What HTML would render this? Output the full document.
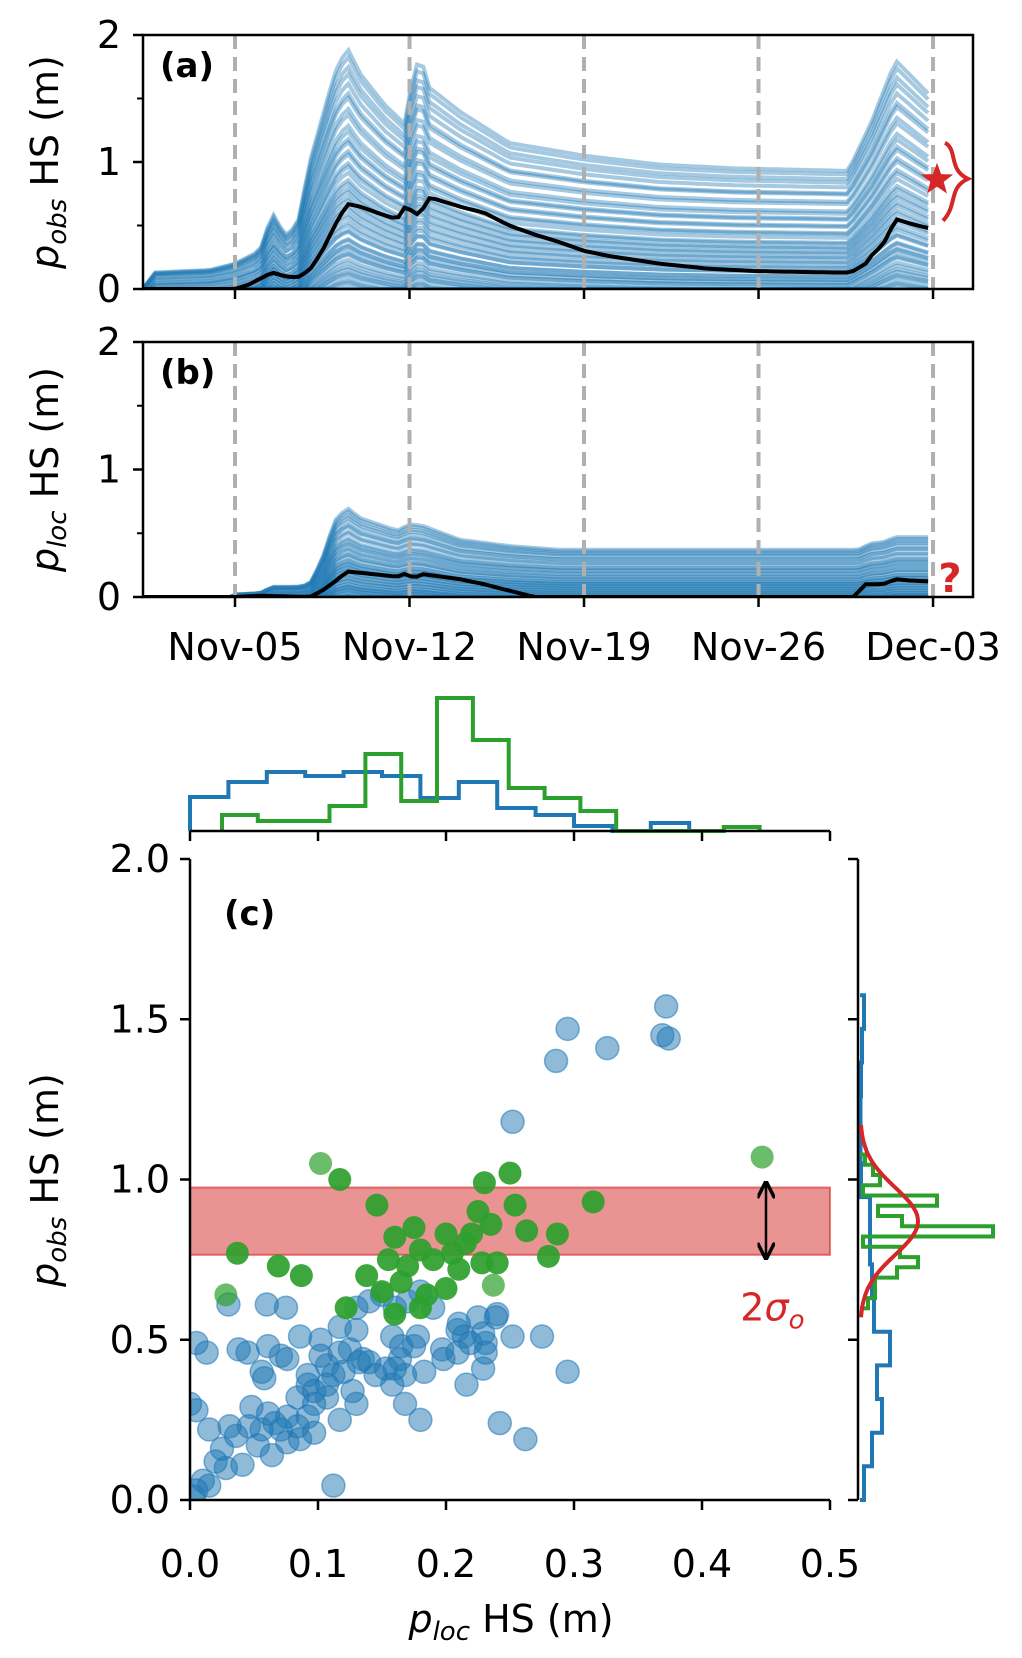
<!DOCTYPE html>
<html><head><meta charset="utf-8"><style>
html,body{margin:0;padding:0;background:#fff;}
svg{display:block;font-family:"DejaVu Sans","Liberation Sans",sans-serif;}
</style></head><body>
<svg id="fig" width="1022" height="1658" viewBox="0 0 1022 1658" xmlns="http://www.w3.org/2000/svg">
<defs>
<clipPath id="clipA"><rect x="143" y="35" width="830" height="254"/></clipPath>
<clipPath id="clipB"><rect x="143" y="342" width="830" height="255"/></clipPath>
<clipPath id="clipC"><rect x="190" y="859" width="640" height="641"/></clipPath>
<marker id="ah" viewBox="0 0 10 10" refX="9" refY="5" markerWidth="7" markerHeight="7" orient="auto-start-reverse"><path d="M0,0 L10,5 L0,10" fill="none" stroke="#000" stroke-width="2"/></marker>
</defs>
<g id="panelA"></g>
<g id="panelB"></g>
<g id="panelC"></g>
</svg>
<script>
// ---------- time series data (day offset from Nov-05) ----------
const dateTicks = ["Nov-05","Nov-12","Nov-19","Nov-26","Dec-03"];
const dateTickDays = [0,7,14,21,28];
const meanADays = [-3.7,0,0.5,1.5,2,2.5,3,3.5,4,4.5,5,6,6.5,6.8,7.2,7.5,7.6,8,9,10,11,12,13,14,15,17,19,21,24,24.7,25.3,25.6,26,26.5,27,28];
const meanAVals = [0,0,0.03,0.13,0.1,0.09,0.15,0.3,0.5,0.67,0.65,0.58,0.55,0.64,0.61,0.55,0.72,0.71,0.65,0.6,0.5,0.43,0.37,0.3,0.26,0.2,0.16,0.14,0.13,0.13,0.2,0.28,0.35,0.55,0.52,0.47];
const shapeADays = [-3.7,-3.2,-1,0,1,1.5,2,2.5,3,4,4.5,5,6,6.8,7.2,7.5,7.7,9,11,14,17,20,24.6,25.5,26.5,27,28];
const shapeAVals = [0,0.13,0.15,0.2,0.3,0.6,0.42,0.5,1.0,1.7,1.9,1.7,1.45,1.3,1.75,1.8,1.6,1.4,1.15,1.05,0.98,0.95,0.93,1.3,1.8,1.7,1.5];
const meanBDays = [-3.7,0,1,3,3.5,4,4.5,5,6,6.5,6.8,7.2,7.5,9,10,11,12,24.8,25.3,26,26.5,27,28];
const meanBVals = [0,0,0.01,0,0.05,0.12,0.2,0.19,0.17,0.16,0.18,0.15,0.18,0.14,0.1,0.05,0,0,0.1,0.1,0.14,0.13,0.12];
const shapeBDays = [-3.7,-0.2,0,1,1.5,2.5,3,3.5,4,4.5,5,6.5,7,7.5,9,11,13,25,25.5,26,26.5,28];
const shapeBVals = [0,0,0.02,0.03,0.08,0.08,0.1,0.3,0.6,0.7,0.62,0.52,0.57,0.56,0.45,0.4,0.37,0.37,0.42,0.43,0.47,0.47];
const memberScale = [1.0,0.97,0.93,0.9,0.86,0.83,0.8,0.77,0.74,0.71,0.68,0.66,0.64,0.62,0.6,0.58,0.56,0.54,0.52,0.5,0.49,0.47,0.46,0.44,0.43,0.41,0.4,0.38,0.37,0.35,0.34,0.33,0.31,0.3,0.29,0.28,0.27,0.26,0.25,0.24,0.22,0.21,0.2,0.19,0.18,0.17,0.16,0.15,0.14,0.12];
const memberOffset = [0,0,0,0,0,0.02,0,0.03,0.02,0.05,0.04,0.06,0.05,0.08,0.07,0.1,0.09,0.1,0.12,0.11,0.13,0.12,0.14,0.13,0.15,0.14,0.16,0.15,0.17,0.16,0.18,0.17,0.19,0.18,0.2,0.19,0.2,0.21,0.2,0.22,0.21,0.22,0.22,0.23,0.22,0.23,0.24,0.23,0.24,0.24];
const obsMarkerValue = 0.86;
// ---------- scatter data ----------
const blueX = [0.372,0.369,0.374,0.295,0.286,0.326,0.252,0.03,0.06,0.075,0.13,0.14,0.15,0.16,0.17,0.19,0.225,0.24,0.21,0.18,0.005,0.013,0.038,0.045,0.061,0.071,0.086,0.102,0.117,0.13,0.158,0.165,0.178,0.209,0.214,0.229,0.239,0.252,0.275,0.231,0.219,0.197,0.164,0.117,0.135,0.107,0.092,0.056,0.058,0.076,0.153,0.168,0.183,0.198,0.229,0.231,0.295,0.158,0.216,0.168,0.18,0.242,0.262,0.127,0.13,0.117,0.107,0.097,0.092,0.084,0.076,0.066,0.056,0.046,0.031,0.015,0,0.005,0.048,0.061,0.053,0.064,0.041,0.02,0.028,0.01,0.005,0.003,0.015,0.112,0.097,0.086,0.076,0.084,0.107,0.112,0.12,0.125,0.132,0.14,0.145,0.102,0.16,0.175,0.209,0.071,0.092,0.036,0.025,0.097];
const blueY = [1.54,1.45,1.44,1.47,1.37,1.41,1.18,0.61,0.61,0.6,0.6,0.62,0.64,0.6,0.62,0.6,0.57,0.58,0.55,0.65,0.49,0.46,0.47,0.46,0.48,0.45,0.51,0.5,0.54,0.53,0.51,0.48,0.51,0.53,0.51,0.52,0.57,0.51,0.51,0.49,0.49,0.47,0.44,0.46,0.44,0.42,0.39,0.4,0.38,0.44,0.41,0.39,0.4,0.44,0.41,0.46,0.4,0.36,0.36,0.3,0.25,0.24,0.19,0.34,0.3,0.25,0.32,0.3,0.36,0.32,0.26,0.24,0.22,0.23,0.23,0.22,0.3,0.28,0.29,0.27,0.17,0.14,0.11,0.12,0.1,0.06,0.03,0.01,0.045,0.045,0.21,0.19,0.18,0.23,0.36,0.39,0.4,0.47,0.43,0.43,0.39,0.45,0.41,0.48,0.46,0.22,0.26,0.2,0.16,0.34];
const greenX = [0.117,0.037,0.069,0.087,0.146,0.122,0.138,0.155,0.16,0.175,0.17,0.165,0.18,0.2,0.205,0.21,0.22,0.225,0.23,0.228,0.235,0.24,0.25,0.254,0.263,0.28,0.287,0.315,0.19,0.215,0.15,0.16,0.2,0.18,0.185];
const greenY = [1.0,0.77,0.73,0.7,0.92,0.6,0.7,0.75,0.82,0.85,0.73,0.68,0.6,0.83,0.77,0.72,0.83,0.9,0.99,0.74,0.86,0.74,1.02,0.92,0.84,0.76,0.83,0.93,0.75,0.8,0.65,0.58,0.66,0.78,0.64];
const greenFadedX = [0.102,0.028,0.447,0.237];
const greenFadedY = [1.05,0.64,1.07,0.67];
const bandLow = 0.765, bandHigh = 0.975;
// ---------- marginal histograms ----------
const topBlueEdgeStart = 0, topBlueBinWidth = 0.03;
const topBlueCounts = [34,49,59,55,59,55,33,49,23,16,5,0,8];
const topGreenEdgeStart = 0.025, topGreenBinWidth = 0.028;
const topGreenCounts = [16,10,10,25,77,30,133,91,43,33,20,0,0,0,4];
const rightBlueEdgeStart = 0, rightBlueBinWidth = 0.105;
const rightBlueCounts = [4,12,22,17,30,14,12,10,10,1,0.5,0.5,1,2,4];
const rightGreenEdgeStart = 0.598, rightGreenBinWidth = 0.032;
const rightGreenCounts = [8,15,15,37,58,40,3,133,42,18,77,3,20,13,5];
const gaussMean = 0.87, gaussSigma = 0.105, gaussPeak = 58;
const xTicksC = [0,0.1,0.2,0.3,0.4,0.5];
const xTickLabelsC = ["0.0","0.1","0.2","0.3","0.4","0.5"];
const yTicksC = [0,0.5,1,1.5,2];
const yTickLabelsC = ["0.0","0.5","1.0","1.5","2.0"];

const NS = "http://www.w3.org/2000/svg";
function mk(parent, tag, attrs, text){
  const e = document.createElementNS(NS, tag);
  for (const k in attrs) e.setAttribute(k, attrs[k]);
  if (text !== undefined) e.textContent = text;
  parent.appendChild(e); return e;
}
function interp(days, vals, d){
  if (d <= days[0]) return vals[0];
  for (let i=1;i<days.length;i++){ if (d <= days[i]) { const t=(d-days[i-1])/(days[i]-days[i-1]); return vals[i-1]+t*(vals[i]-vals[i-1]); } }
  return vals[vals.length-1];
}
const xd = d => 235 + d*24.93;
const BLUE = "#1f77b4", GREEN = "#2ca02c", RED = "#d62728";

function timePanel(g, top, bottom, clip, shapeD, shapeV, meanD, meanV, offFactor, label, sub){
  const yv = v => bottom - v*(bottom-top)/2;
  const grid = []; for (let d=-3.7; d<=28.001; d+=0.25) grid.push(d);
  const ens = mk(g,'g',{'clip-path':'url(#'+clip+')'});
  
  
  for (let i=0;i<memberScale.length;i++){
    let p = '';
    grid.forEach((d,j)=>{ const v=Math.max(0, memberScale[i]*interp(shapeD,shapeV,d)-memberOffset[i]*offFactor); p += (j?'L':'M')+xd(d).toFixed(1)+','+yv(v).toFixed(1); });
    const l = mk(ens,'path',{d:p,fill:'none',stroke:BLUE,'stroke-opacity':0.4,'stroke-width':4});
    
    
  }
  dateTickDays.forEach(d=>{
    const l = mk(g,'line',{x1:xd(d),x2:xd(d),y1:top,y2:bottom,stroke:'#b0b0b0','stroke-width':4,'stroke-dasharray':'14 8'});
    
    
  });
  let p=''; grid.forEach((d,j)=>{ p += (j?'L':'M')+xd(d).toFixed(1)+','+yv(interp(meanD,meanV,d)).toFixed(1); });
  const m = mk(g,'path',{d:p,fill:'none',stroke:'#000','stroke-width':4,'clip-path':'url(#'+clip+')'});
  
  
  const fr = mk(g,'rect',{x:143,y:top,width:830,height:bottom-top,fill:'none',stroke:'#000','stroke-width':2.5});
  
  
  [0,1,2].forEach(v=>{
    mk(g,'line',{x1:133,x2:143,y1:yv(v),y2:yv(v),stroke:'#000','stroke-width':2.5});
    const t = mk(g,'text',{x:121,y:yv(v)+13,'font-size':38,'text-anchor':'end'}, String(v));
    
    
  });
  [0.5,1.5].forEach(v=> mk(g,'line',{x1:137,x2:143,y1:yv(v),y2:yv(v),stroke:'#000','stroke-width':2}));
  dateTickDays.forEach(d=> mk(g,'line',{x1:xd(d),x2:xd(d),y1:bottom,y2:bottom+10,stroke:'#000','stroke-width':2.5}));
  const pl = mk(g,'text',{x:160,y:top+42,'font-size':34,'font-weight':'bold'}, label);
  
  
  const yl = mk(g,'text',{x:0,y:0,'font-size':38,'text-anchor':'middle',transform:'translate(58,'+((top+bottom)/2)+') rotate(-90)'});
  
  
  mk(yl,'tspan',{'font-style':'italic'},'p');
  mk(yl,'tspan',{'font-style':'italic','font-size':26,dy:8}, sub);
  mk(yl,'tspan',{dy:-8},' HS (m)');
  return yv;
}
const gA = document.getElementById('panelA');
const yA = timePanel(gA,35,289,'clipA',shapeADays,shapeAVals,meanADays,meanAVals,1,'(a)','obs');
const gB = document.getElementById('panelB');
timePanel(gB,342,597,'clipB',shapeBDays,shapeBVals,meanBDays,meanBVals,0.6,'(b)','loc');
dateTicks.forEach((s,i)=>{
  const t = mk(gB,'text',{x:xd(dateTickDays[i]),y:660,'font-size':38,'text-anchor':'middle'}, s);
  
  
});
(function(){
  const cx=937, cy=yA(obsMarkerValue), R=17, r=7; let p='';
  for(let i=0;i<10;i++){ const a=-Math.PI/2+i*Math.PI/5, rr=i%2?r:R; p+=(i?'L':'M')+(cx+rr*Math.cos(a)).toFixed(1)+','+(cy+rr*Math.sin(a)).toFixed(1); }
  const s = mk(gA,'path',{d:p+'Z',fill:RED});
  
  
  const b = mk(gA,'path',{d:`M945,${cy-37} C958,${cy-30} 948,${cy-10} 968,${cy-1} C948,${cy+8} 958,${cy+25} 943,${cy+41}`,fill:'none',stroke:RED,'stroke-width':4});
  
  
  const q = mk(gB,'text',{x:950,y:592,'font-size':40,'font-weight':'bold',fill:RED,'text-anchor':'middle'},'?');
  
  
})();

// ---------- panel C ----------
const gC = document.getElementById('panelC');
const xc = v => 190 + v*1280;
const yc = v => 1500 - v*320.5;
const band = mk(gC,'rect',{x:190,y:yc(bandHigh),width:640,height:yc(bandLow)-yc(bandHigh),fill:RED,'fill-opacity':0.5,stroke:RED,'stroke-opacity':0.6,'stroke-width':2});


const pts = mk(gC,'g',{'clip-path':'url(#clipC)'});
blueX.forEach((x,i)=>{
  const c = mk(pts,'circle',{cx:xc(x),cy:yc(blueY[i]),r:11.5,fill:BLUE,'fill-opacity':0.5,stroke:BLUE,'stroke-opacity':0.55,'stroke-width':1.5});
  
  
});
greenFadedX.forEach((x,i)=>{
  const c = mk(pts,'circle',{cx:xc(x),cy:yc(greenFadedY[i]),r:11.5,fill:GREEN,'fill-opacity':0.7});
  
  
});
greenX.forEach((x,i)=>{
  const c = mk(pts,'circle',{cx:xc(x),cy:yc(greenY[i]),r:11.5,fill:GREEN,'fill-opacity':0.92});
  
  
});
const arr = mk(gC,'line',{x1:xc(0.45),x2:xc(0.45),y1:yc(0.99),y2:yc(0.755),stroke:'#000','stroke-width':2.5,'marker-start':'url(#ah)','marker-end':'url(#ah)'});


const sg = mk(gC,'text',{x:xc(0.455),y:yc(0.56),'font-size':38,fill:RED,'text-anchor':'middle'});


mk(sg,'tspan',{},'2');
mk(sg,'tspan',{'font-style':'italic'},'σ');
mk(sg,'tspan',{'font-style':'italic','font-size':26,dy:8},'o');
mk(gC,'path',{d:'M190,859 L190,1500 L830,1500',fill:'none',stroke:'#000','stroke-width':2.5});
xTicksC.forEach((v,i)=>{
  mk(gC,'line',{x1:xc(v),x2:xc(v),y1:1500,y2:1510,stroke:'#000','stroke-width':2.5});
  const t = mk(gC,'text',{x:xc(v),y:1577,'font-size':38,'text-anchor':'middle'}, xTickLabelsC[i]);
  
  
});
yTicksC.forEach((v,i)=>{
  mk(gC,'line',{x1:180,x2:190,y1:yc(v),y2:yc(v),stroke:'#000','stroke-width':2.5});
  const t = mk(gC,'text',{x:170,y:yc(v)+13,'font-size':38,'text-anchor':'end'}, yTickLabelsC[i]);
  
  
});
const lc = mk(gC,'text',{x:224,y:925,'font-size':34,'font-weight':'bold'},'(c)');


const xl = mk(gC,'text',{x:511,y:1632,'font-size':38,'text-anchor':'middle'});


mk(xl,'tspan',{'font-style':'italic'},'p');
mk(xl,'tspan',{'font-style':'italic','font-size':26,dy:8},'loc');
mk(xl,'tspan',{dy:-8},' HS (m)');
const yl = mk(gC,'text',{x:0,y:0,'font-size':38,'text-anchor':'middle',transform:'translate(58,1180) rotate(-90)'});


mk(yl,'tspan',{'font-style':'italic'},'p');
mk(yl,'tspan',{'font-style':'italic','font-size':26,dy:8},'obs');
mk(yl,'tspan',{dy:-8},' HS (m)');

function stepTop(start, w, counts, color, name){
  const base=831; let p='M'+xc(start)+','+base;
  counts.forEach((c,i)=>{ p+='L'+xc(start+i*w).toFixed(1)+','+(base-c)+'L'+xc(start+(i+1)*w).toFixed(1)+','+(base-c); });
  p+='L'+xc(start+counts.length*w).toFixed(1)+','+base;
  const e = mk(gC,'path',{d:p,fill:'none',stroke:color,'stroke-width':4});
  
  
}
stepTop(topBlueEdgeStart, topBlueBinWidth, topBlueCounts, BLUE, 'top-histogram-all');
stepTop(topGreenEdgeStart, topGreenBinWidth, topGreenCounts, GREEN, 'top-histogram-selected');
mk(gC,'line',{x1:190,x2:830,y1:831,y2:831,stroke:'#000','stroke-width':2.5});
xTicksC.forEach(v=> mk(gC,'line',{x1:xc(v),x2:xc(v),y1:831,y2:841,stroke:'#000','stroke-width':2.5}));

function stepRight(start, w, counts, color, name){
  const base=860; let p='M'+base+','+yc(start);
  counts.forEach((c,i)=>{ p+='L'+(base+c)+','+yc(start+i*w).toFixed(1)+'L'+(base+c)+','+yc(start+(i+1)*w).toFixed(1); });
  p+='L'+base+','+yc(start+counts.length*w).toFixed(1);
  const e = mk(gC,'path',{d:p,fill:'none',stroke:color,'stroke-width':4});
  
  
}
stepRight(rightBlueEdgeStart, rightBlueBinWidth, rightBlueCounts, BLUE, 'right-histogram-all');
stepRight(rightGreenEdgeStart, rightGreenBinWidth, rightGreenCounts, GREEN, 'right-histogram-selected');
let gp=''; for(let v=gaussMean-0.3; v<=gaussMean+0.3001; v+=0.01){ const w=gaussPeak*Math.exp(-0.5*((v-gaussMean)/gaussSigma)**2); gp+=(gp?'L':'M')+(860+w).toFixed(1)+','+yc(v).toFixed(1); }
const gc = mk(gC,'path',{d:gp,fill:'none',stroke:RED,'stroke-width':4});


mk(gC,'line',{x1:858,x2:858,y1:859,y2:1500,stroke:'#000','stroke-width':2.5});
yTicksC.forEach(v=> mk(gC,'line',{x1:848,x2:858,y1:yc(v),y2:yc(v),stroke:'#000','stroke-width':2.5}));
</script>
</body></html>
